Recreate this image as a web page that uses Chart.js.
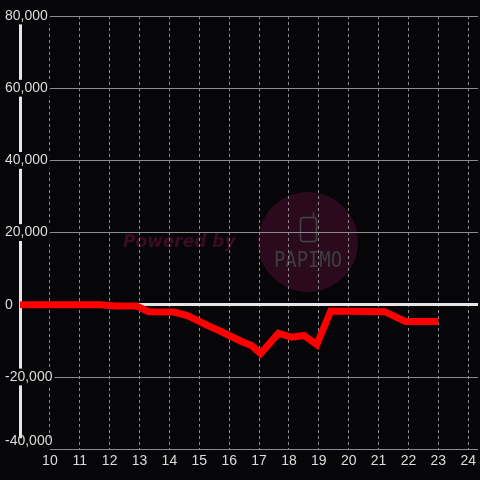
<!DOCTYPE html>
<html>
<head>
<meta charset="utf-8">
<script src="https://cdn.jsdelivr.net/npm/chart.js@4"></script>
<style>
    html, body { margin: 0; padding: 0; background: #060609; }
    #wrap { width: 480px; height: 480px; }
</style>
</head>
<body>
<div id="wrap"><canvas id="pnlChart" width="480" height="480"></canvas></div>
<script>
// Hour of day (x) and profit/loss (y)
const hours = [8.8, 11.7, 12.2, 12.9, 13.3, 14.15, 14.6, 15.0, 15.3, 15.65, 16.0, 16.45, 16.75, 17.05, 17.65, 18.1, 18.5, 18.93, 19.4, 21.2, 21.9, 23.0];
const balance = [0, 0, -300, -300, -1900, -2000, -3000, -4600, -5800, -7100, -8500, -10300, -11300, -13500, -7900, -9000, -8500, -11000, -1700, -1900, -4600, -4600];

// Axis ranges and labelled ticks
const xRange = [9, 24.33];
const yRange = [-40000, 80000];
const yLabelStep = 20000;
const BG = '#060609';

// Background + watermark, drawn under the grid
const watermark = {
    id: 'watermark',
    beforeDraw(chart) {
        const ctx = chart.ctx;
        ctx.save();
        ctx.fillStyle = BG;
        ctx.fillRect(0, 0, chart.width, chart.height);

        ctx.fillStyle = '#2a0a1c';
        ctx.beginPath();
        ctx.arc(308, 242, 50, 0, Math.PI * 2);
        ctx.fill();

        ctx.fillStyle = '#3a0c22';
        ctx.font = 'italic bold 17px "DejaVu Sans"';
        ctx.textBaseline = 'alphabetic';
        ctx.fillText('Powered by', 123, 247, 116);

        // little phone icon
        ctx.strokeStyle = '#444';
        ctx.lineWidth = 1.5;
        ctx.beginPath();
        ctx.roundRect(300.5, 217.5, 16, 24, 3);
        ctx.stroke();
        ctx.beginPath();
        ctx.moveTo(313.5, 217.5);
        ctx.lineTo(313.5, 212.5);
        ctx.stroke();

        ctx.fillStyle = '#3e3e3e';
        ctx.font = '22px "DejaVu Sans Mono"';
        ctx.fillText('PAPIMO', 274, 267, 68);
        ctx.restore();
    },
    // box behind the lifted bottom y label (labels are drawn after this, ticks.z = 1)
    afterDatasetsDraw(chart) {
        const ctx = chart.ctx;
        const py = chart.scales.y.getPixelForValue(yRange[0]);
        ctx.save();
        ctx.fillStyle = BG;
        ctx.fillRect(2, py - 11, 48, 12);
        ctx.restore();
    }
};

const isBottom = (c) => c.tick && c.tick.value === yRange[0];

const ctx = document.getElementById('pnlChart').getContext('2d');
const pnlChart = new Chart(ctx, {
    type: 'line',
    data: {
        datasets: [{
            data: hours.map((h, i) => ({ x: h, y: balance[i] })),
            borderColor: '#ff0000',
            borderWidth: 7,
            pointRadius: 0,
            tension: 0,
            fill: false
        }]
    },
    options: {
        responsive: false,
        animation: false,
        layout: {
            padding: { left: 5, top: 16, right: 0, bottom: 6 }
        },
        plugins: {
            legend: { display: false },
            tooltip: { enabled: false }
        },
        scales: {
            x: {
                type: 'linear',
                min: xRange[0],
                max: xRange[1],
                border: { display: false, dash: [3, 3] },
                grid: {
                    color: '#8c8c8c',
                    lineWidth: 1,
                    drawTicks: false
                },
                ticks: {
                    stepSize: 1,
                    includeBounds: false,
                    padding: 4,
                    color: '#dcdcdc',
                    font: { family: '"Liberation Sans", Arial', size: 14 },
                    callback: (v) => v === xRange[0] ? '' : v
                }
            },
            y: {
                min: yRange[0],
                max: yRange[1],
                afterFit: (scale) => { scale.width = 15; },
                border: { display: true, color: '#e6e6e6', width: 3 },
                grid: {
                    color: (c) => c.tick && c.tick.value === 0 ? '#e6e6e6' : '#8c8c8c',
                    lineWidth: (c) => c.tick && c.tick.value === 0 ? 3 : 1,
                    drawTicks: false
                },
                ticks: {
                    z: 1,
                    stepSize: 10000,
                    mirror: true,
                    crossAlign: 'near',
                    padding: -15,
                    color: '#dcdcdc',
                    font: { family: '"Liberation Sans", Arial', size: 14 },
                    showLabelBackdrop: true,
                    backdropColor: (c) => c.tick && c.tick.value % yLabelStep === 0 && !isBottom(c) ? BG : 'rgba(0,0,0,0)',
                    backdropPadding: { left: 2, right: 2, top: 0, bottom: 0 },
                    // bottom label is lifted above the x labels
                    callback: (v) => {
                        if (v % yLabelStep !== 0) return '';
                        const s = v.toLocaleString('en-US');
                        return v === yRange[0] ? [s, ''] : s;
                    }
                }
            }
        }
    },
    plugins: [watermark]
});
</script>
</body>
</html>
